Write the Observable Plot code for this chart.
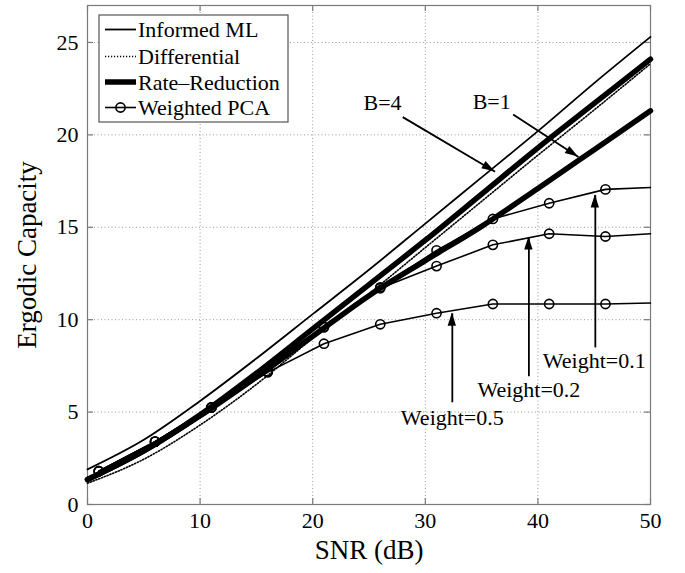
<!DOCTYPE html>
<html><head><meta charset="utf-8">
<script src="https://cdn.jsdelivr.net/npm/d3@7"></script>
<script src="https://cdn.jsdelivr.net/npm/@observablehq/plot@0.6"></script>
<style>
body{margin:0;background:#fff;}
#chart{width:685px;height:573px;}
#chart svg, #chart svg text{font-family:"Liberation Serif","Times New Roman",serif !important;}
</style></head><body><div id="chart"></div>
<script>
// ---- data ----
const snr = [0, 5, 10, 15, 20, 25, 30, 35, 40, 45, 50];
const informedML      = [1.9, 3.5, 5.6, 7.9, 10.3, 12.7, 15.2, 17.7, 20.2, 22.8, 25.3];
const differential    = [1.15, 2.45, 4.3, 6.5, 9.0, 11.4, 13.9, 16.4, 18.9, 21.35, 23.85];
const rateReductionB4 = [1.35, 2.9, 4.85, 7.1, 9.5, 11.9, 14.3, 16.8, 19.3, 21.7, 24.1];
const rateReductionB1 = [1.35, 2.9, 4.8, 6.9, 9.1, 11.3, 13.2, 15.05, 17.1, 19.2, 21.3];

const pcaSnr = [1, 6, 11, 16, 21, 26, 31, 36, 41, 46, 50];
const pcaMarked = 10; // markers on the first ten points
const pcaW01 = [1.8, 3.4, 5.25, 7.2, 9.6, 11.75, 13.75, 15.45, 16.3, 17.05, 17.15];
const pcaW02 = [1.8, 3.4, 5.25, 7.2, 9.6, 11.7, 12.9, 14.05, 14.65, 14.5, 14.65];
const pcaW05 = [1.8, 3.4, 5.25, 7.15, 8.7, 9.75, 10.35, 10.85, 10.85, 10.85, 10.9];

const xTicks = [0, 10, 20, 30, 40, 50];
const yTicks = [0, 5, 10, 15, 20, 25];

const legendLabels = ["Informed ML", "Differential", "Rate\u2013Reduction", "Weighted PCA"];

// annotations (data coordinates)
const annLabels = ["B=4", "B=1", "Weight=0.1", "Weight=0.2", "Weight=0.5"];
const annTextX  = [26.2, 35.9, 45.0, 39.2, 32.4];
const annTextY  = [21.7, 21.8, 7.75, 6.18, 4.7];
const arrX1 = [28.0, 37.8, 45.1, 39.2, 32.4];
const arrY1 = [20.96, 21.1, 8.5, 6.94, 5.53];
const arrX2 = [36.2, 43.6, 45.1, 39.2, 32.4];
const arrY2 = [18.0, 18.8, 16.75, 14.47, 10.35];

// ---- build tables ----
const rows = (xs, ys) => xs.map((x, i) => ({x, y: ys[i]}));
const annots = annLabels.map((t, i) => ({t, x: annTextX[i], y: annTextY[i]}));
const arrows = arrX1.map((x1, i) => ({x1, y1: arrY1[i], x2: arrX2[i], y2: arrY2[i]}));
const pcaSeries = [pcaW01, pcaW02, pcaW05];

const serif = "Liberation Serif";
const frameGray = "#7a7a7a";
const gridGray = "#9a9a9a";

const lineMarks = [];
pcaSeries.forEach(s => {
  lineMarks.push(Plot.line(rows(pcaSnr, s), {x: "x", y: "y", stroke: "black", strokeWidth: 1.6}));
  lineMarks.push(Plot.dot(rows(pcaSnr, s).slice(0, pcaMarked), {x: "x", y: "y", r: 4.6, stroke: "black", strokeWidth: 1.6, fill: "none"}));
});

const plot = Plot.plot({
  width: 685, height: 573,
  marginLeft: 87, marginRight: 35, marginTop: 5, marginBottom: 69,
  style: {fontFamily: serif, fontSize: "22px", background: "white", color: "black"},
  x: {domain: [0, 50], label: null},
  y: {domain: [0, 27], label: null},
  marks: [
    Plot.ruleX(xTicks.slice(1, -1), {x: d => d, stroke: gridGray, strokeDasharray: "1,2.5", strokeWidth: 1}),
    Plot.ruleY(yTicks.slice(1), {y: d => d, stroke: gridGray, strokeDasharray: "1,2.5", strokeWidth: 1}),
    Plot.frame({stroke: frameGray, strokeWidth: 1.2}),
    Plot.tickX(xTicks, {x: d => d, insetTop: 493, stroke: frameGray, strokeWidth: 1.2}),
    Plot.tickX(xTicks, {x: d => d, insetBottom: 493, stroke: frameGray, strokeWidth: 1.2}),
    Plot.tickY(yTicks, {y: d => d, insetRight: 557, stroke: frameGray, strokeWidth: 1.2}),
    Plot.tickY(yTicks, {y: d => d, insetLeft: 557, stroke: frameGray, strokeWidth: 1.2}),
    Plot.axisX(xTicks, {tickSize: 0, tickPadding: 8, fontSize: 22, fontFamily: serif, label: null}),
    Plot.axisY(yTicks, {tickSize: 0, tickPadding: 9, fontSize: 22, fontFamily: serif, label: null}),
    Plot.text(["SNR (dB)"], {text: d => d, frameAnchor: "bottom", lineAnchor: "middle", textAnchor: "middle", dy: 46, fontSize: 27, fontFamily: serif}),
    Plot.text(["Ergodic Capacity"], {text: d => d, frameAnchor: "left", lineAnchor: "middle", textAnchor: "middle", dx: -60, rotate: -90, fontSize: 27, fontFamily: serif}),
    Plot.line(rows(snr, differential), {x: "x", y: "y", stroke: "black", strokeWidth: 1.6, strokeDasharray: "1.2,1.8", curve: "monotone-x"}),
    Plot.line(rows(snr, informedML), {x: "x", y: "y", stroke: "black", strokeWidth: 1.8, curve: "monotone-x"}),
    Plot.line(rows(snr, rateReductionB4), {x: "x", y: "y", stroke: "black", strokeWidth: 5.5, curve: "monotone-x"}),
    Plot.line(rows(snr, rateReductionB1), {x: "x", y: "y", stroke: "black", strokeWidth: 5.5, curve: "monotone-x"}),
    ...lineMarks,
    Plot.link(arrows, {x1: "x1", y1: "y1", x2: "x2", y2: "y2", stroke: "black", strokeWidth: 1.8}),
    Plot.text(annots, {x: "x", y: "y", text: "t", fontSize: 22, fontFamily: serif, fill: "black"})
  ]
});

// filled arrow heads, positioned through the plot's own scales
const svg = d3.select(plot);
const sx = plot.scale("x"), sy = plot.scale("y");
const lin = s => v => s.range[0] + (v - s.domain[0]) / (s.domain[1] - s.domain[0]) * (s.range[1] - s.range[0]);
const fx = lin(sx), fy = lin(sy);
const heads = svg.append("g");
arrows.forEach(a => {
  const px1 = fx(a.x1), py1 = fy(a.y1), px2 = fx(a.x2), py2 = fy(a.y2);
  const dx = px2 - px1, dy = py2 - py1, L = Math.hypot(dx, dy);
  const ux = dx / L, uy = dy / L, len = 13, hw = 4.2;
  const bx = px2 - ux * len, by = py2 - uy * len;
  heads.append("path")
    .attr("d", `M${px2},${py2}L${bx - uy * hw},${by + ux * hw}L${bx + uy * hw},${by - ux * hw}Z`)
    .attr("fill", "black");
});

// legend
const lg = svg.append("g").attr("font-family", serif).attr("font-size", 22).attr("text-anchor", "start");
lg.append("rect").attr("x", 99).attr("y", 15).attr("width", 189).attr("height", 107)
  .attr("fill", "white").attr("stroke", "#555").attr("stroke-width", 1.2);
const rowY = [29.5, 56.5, 82, 107.5];
const styles = [
  {w: 1.8, dash: null}, {w: 1.5, dash: "1.2,1.8"}, {w: 5.5, dash: null}, {w: 1.6, dash: null}
];
legendLabels.forEach((lab, i) => {
  const y = rowY[i];
  lg.append("line").attr("x1", 105).attr("x2", 136).attr("y1", y).attr("y2", y)
    .attr("stroke", "black").attr("stroke-width", styles[i].w)
    .attr("stroke-dasharray", styles[i].dash);
  if (i === 3) lg.append("circle").attr("cx", 120.5).attr("cy", y).attr("r", 4.6)
    .attr("fill", "none").attr("stroke", "black").attr("stroke-width", 1.6);
  lg.append("text").attr("x", 138).attr("y", y).attr("dy", "0.35em").attr("text-anchor", "start").text(lab);
});

document.getElementById("chart").appendChild(plot);
</script></body></html>
